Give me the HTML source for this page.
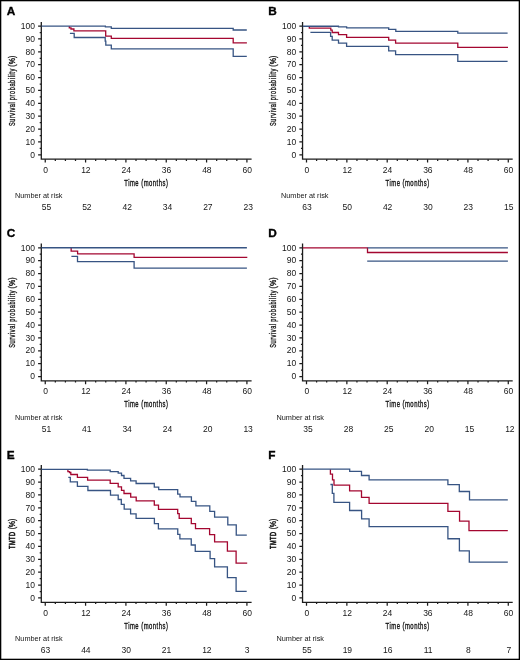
<!DOCTYPE html>
<html><head><meta charset="utf-8"><style>
html,body{margin:0;padding:0;background:#fff;}
body{width:520px;height:660px;overflow:hidden;}
svg{display:block;will-change:transform;}
text{font-family:"Liberation Sans",sans-serif;fill:#161616;}
.let{font-size:11.8px;font-weight:bold;fill:#000;stroke:#000;stroke-width:0.35;}
.yt{font-size:8.5px;text-anchor:end;}
.xt{font-size:8.5px;text-anchor:middle;}
.xl{font-size:9.8px;stroke:#161616;stroke-width:0.4;}
.yl{font-size:9.0px;stroke:#161616;stroke-width:0.35;}
.nl{font-size:7.3px;}
.nn{font-size:8.5px;text-anchor:middle;}
.tk{stroke:#1c1c1c;stroke-width:1.25;fill:none;}
.ax{stroke:#1c1c1c;stroke-width:1.3;fill:none;stroke-linejoin:miter;stroke-linecap:butt;}
.cr{stroke:#a40730;stroke-width:1.3;fill:none;stroke-linejoin:miter;}
.cb{stroke:#375483;stroke-width:1.3;fill:none;stroke-linejoin:miter;}
</style></head><body>
<svg width="520" height="660" viewBox="0 0 520 660">
<rect x="0" y="0" width="520" height="660" fill="#fff"/>
<text x="6.7" y="15.45" class="let">A</text>
<path d="M38.1,154.8H41.3M39.7,148.37H41.3M38.1,141.93H41.3M39.7,135.5H41.3M38.1,129.06H41.3M39.7,122.62H41.3M38.1,116.19H41.3M39.7,109.76H41.3M38.1,103.32H41.3M39.7,96.89H41.3M38.1,90.45H41.3M39.7,84.02H41.3M38.1,77.58H41.3M39.7,71.14H41.3M38.1,64.71H41.3M39.7,58.28H41.3M38.1,51.84H41.3M39.7,45.41H41.3M38.1,38.97H41.3M39.7,32.53H41.3M38.1,26.1H41.3M45.25,159.2V162.6M55.33,159.2V160.9M65.42,159.2V160.9M75.5,159.2V160.9M85.58,159.2V162.6M95.67,159.2V160.9M105.75,159.2V160.9M115.83,159.2V160.9M125.91,159.2V162.6M136,159.2V160.9M146.08,159.2V160.9M156.16,159.2V160.9M166.25,159.2V162.6M176.33,159.2V160.9M186.41,159.2V160.9M196.5,159.2V160.9M206.58,159.2V162.6M216.66,159.2V160.9M226.74,159.2V160.9M236.83,159.2V160.9M246.91,159.2V162.6" class="tk"/>
<path d="M41.3,21.9V159.2H251.6" class="ax"/>
<text x="34.9" y="157.5" class="yt">0</text>
<text x="34.9" y="144.63" class="yt">10</text>
<text x="34.9" y="131.76" class="yt">20</text>
<text x="34.9" y="118.89" class="yt">30</text>
<text x="34.9" y="106.02" class="yt">40</text>
<text x="34.9" y="93.15" class="yt">50</text>
<text x="34.9" y="80.28" class="yt">60</text>
<text x="34.9" y="67.41" class="yt">70</text>
<text x="34.9" y="54.54" class="yt">80</text>
<text x="34.9" y="41.67" class="yt">90</text>
<text x="34.9" y="28.8" class="yt">100</text>
<text x="45.55" y="172.6" class="xt">0</text>
<text x="85.88" y="172.6" class="xt">12</text>
<text x="126.21" y="172.6" class="xt">24</text>
<text x="166.55" y="172.6" class="xt">36</text>
<text x="206.88" y="172.6" class="xt">48</text>
<text x="247.21" y="172.6" class="xt">60</text>
<text transform="translate(124.28,185.7) scale(0.6,1)" x="0" y="0" class="xl" textLength="72.67" lengthAdjust="spacing">Time (months)</text>
<text transform="translate(14.8,126.05) rotate(-90) scale(0.62,1)" x="0" y="0" class="yl" textLength="38.42" lengthAdjust="spacing">Survival</text>
<text transform="translate(14.8,100.16) rotate(-90) scale(0.62,1)" x="0" y="0" class="yl" textLength="50.69" lengthAdjust="spacing">probability</text>
<text transform="translate(14.8,66.72) rotate(-90) scale(0.78,1)" x="0" y="0" class="yl" textLength="14.11" lengthAdjust="spacing">(%)</text>
<text x="15" y="198.2" class="nl">Number at risk</text>
<text x="46.55" y="209.9" class="nn">55</text>
<text x="86.88" y="209.9" class="nn">52</text>
<text x="127.21" y="209.9" class="nn">42</text>
<text x="167.55" y="209.9" class="nn">34</text>
<text x="207.88" y="209.9" class="nn">27</text>
<text x="248.21" y="209.9" class="nn">23</text>
<path d="M69.3,26.2 V27.9 H71.0 V29.0 H73.9 V30.85 H105.7 V36.2 H111.3 V38.45 H233.2 V42.9 H246.9" class="cr"/>
<path d="M41.5,26.2 H105.4 V26.8 H111.3 V28.3 H233.2 V30.0 H246.8" class="cb"/>
<path d="M69.9,33.4 H74.2 V37.5 H105.2 V41.2 H105.8 V45.1 H111.3 V48.8 H233.2 V56.3 H246.8" class="cb"/>
<text x="268.3" y="15.45" class="let">B</text>
<path d="M299.35,154.8H302.55M300.95,148.37H302.55M299.35,141.93H302.55M300.95,135.5H302.55M299.35,129.06H302.55M300.95,122.62H302.55M299.35,116.19H302.55M300.95,109.76H302.55M299.35,103.32H302.55M300.95,96.89H302.55M299.35,90.45H302.55M300.95,84.02H302.55M299.35,77.58H302.55M300.95,71.14H302.55M299.35,64.71H302.55M300.95,58.28H302.55M299.35,51.84H302.55M300.95,45.41H302.55M299.35,38.97H302.55M300.95,32.53H302.55M299.35,26.1H302.55M306.5,159.2V162.6M316.59,159.2V160.9M326.68,159.2V160.9M336.77,159.2V160.9M346.86,159.2V162.6M356.94,159.2V160.9M367.03,159.2V160.9M377.12,159.2V160.9M387.21,159.2V162.6M397.3,159.2V160.9M407.39,159.2V160.9M417.48,159.2V160.9M427.57,159.2V162.6M437.66,159.2V160.9M447.75,159.2V160.9M457.84,159.2V160.9M467.92,159.2V162.6M478.01,159.2V160.9M488.1,159.2V160.9M498.19,159.2V160.9M508.28,159.2V162.6" class="tk"/>
<path d="M302.55,21.9V159.2H512.7" class="ax"/>
<text x="296.15" y="157.5" class="yt">0</text>
<text x="296.15" y="144.63" class="yt">10</text>
<text x="296.15" y="131.76" class="yt">20</text>
<text x="296.15" y="118.89" class="yt">30</text>
<text x="296.15" y="106.02" class="yt">40</text>
<text x="296.15" y="93.15" class="yt">50</text>
<text x="296.15" y="80.28" class="yt">60</text>
<text x="296.15" y="67.41" class="yt">70</text>
<text x="296.15" y="54.54" class="yt">80</text>
<text x="296.15" y="41.67" class="yt">90</text>
<text x="296.15" y="28.8" class="yt">100</text>
<text x="306.8" y="172.6" class="xt">0</text>
<text x="347.16" y="172.6" class="xt">12</text>
<text x="387.51" y="172.6" class="xt">24</text>
<text x="427.87" y="172.6" class="xt">36</text>
<text x="468.22" y="172.6" class="xt">48</text>
<text x="508.58" y="172.6" class="xt">60</text>
<text transform="translate(385.59,185.7) scale(0.6,1)" x="0" y="0" class="xl" textLength="72.67" lengthAdjust="spacing">Time (months)</text>
<text transform="translate(276.1,126.05) rotate(-90) scale(0.62,1)" x="0" y="0" class="yl" textLength="38.42" lengthAdjust="spacing">Survival</text>
<text transform="translate(276.1,100.16) rotate(-90) scale(0.62,1)" x="0" y="0" class="yl" textLength="50.69" lengthAdjust="spacing">probability</text>
<text transform="translate(276.1,66.72) rotate(-90) scale(0.78,1)" x="0" y="0" class="yl" textLength="14.11" lengthAdjust="spacing">(%)</text>
<text x="281" y="198.2" class="nl">Number at risk</text>
<text x="306.9" y="209.9" class="nn">63</text>
<text x="347.26" y="209.9" class="nn">50</text>
<text x="387.61" y="209.9" class="nn">42</text>
<text x="427.97" y="209.9" class="nn">30</text>
<text x="468.32" y="209.9" class="nn">23</text>
<text x="508.68" y="209.9" class="nn">15</text>
<path d="M309.3,26.25 V28.2 H330.8 V30.1 H332.2 V32.5 H338.5 V34.7 H346.6 V37.3 H388.7 V40.2 H395.6 V43.1 H457.8 V47.3 H508" class="cr"/>
<path d="M302.8,26.25 H338.5 V26.8 H346.6 V27.9 H388.7 V29.3 H395.8 V31.3 H457.8 V33.1 H507.6" class="cb"/>
<path d="M310.4,32.3 H330.6 V36.3 H332.2 V40.2 H338.5 V43.1 H346.6 V46.3 H388.7 V50.8 H395.6 V54.6 H457.8 V61.3 H507.6" class="cb"/>
<text x="6.7" y="237.15" class="let">C</text>
<path d="M38.1,376.5H41.3M39.7,370.06H41.3M38.1,363.63H41.3M39.7,357.19H41.3M38.1,350.76H41.3M39.7,344.32H41.3M38.1,337.89H41.3M39.7,331.45H41.3M38.1,325.02H41.3M39.7,318.58H41.3M38.1,312.15H41.3M39.7,305.72H41.3M38.1,299.28H41.3M39.7,292.85H41.3M38.1,286.41H41.3M39.7,279.98H41.3M38.1,273.54H41.3M39.7,267.11H41.3M38.1,260.67H41.3M39.7,254.24H41.3M38.1,247.8H41.3M45.25,380.9V384.3M55.33,380.9V382.6M65.42,380.9V382.6M75.5,380.9V382.6M85.58,380.9V384.3M95.67,380.9V382.6M105.75,380.9V382.6M115.83,380.9V382.6M125.91,380.9V384.3M136,380.9V382.6M146.08,380.9V382.6M156.16,380.9V382.6M166.25,380.9V384.3M176.33,380.9V382.6M186.41,380.9V382.6M196.5,380.9V382.6M206.58,380.9V384.3M216.66,380.9V382.6M226.74,380.9V382.6M236.83,380.9V382.6M246.91,380.9V384.3" class="tk"/>
<path d="M41.3,243.6V380.9H251.6" class="ax"/>
<text x="34.9" y="379.2" class="yt">0</text>
<text x="34.9" y="366.33" class="yt">10</text>
<text x="34.9" y="353.46" class="yt">20</text>
<text x="34.9" y="340.59" class="yt">30</text>
<text x="34.9" y="327.72" class="yt">40</text>
<text x="34.9" y="314.85" class="yt">50</text>
<text x="34.9" y="301.98" class="yt">60</text>
<text x="34.9" y="289.11" class="yt">70</text>
<text x="34.9" y="276.24" class="yt">80</text>
<text x="34.9" y="263.37" class="yt">90</text>
<text x="34.9" y="250.5" class="yt">100</text>
<text x="45.55" y="394.3" class="xt">0</text>
<text x="85.88" y="394.3" class="xt">12</text>
<text x="126.21" y="394.3" class="xt">24</text>
<text x="166.55" y="394.3" class="xt">36</text>
<text x="206.88" y="394.3" class="xt">48</text>
<text x="247.21" y="394.3" class="xt">60</text>
<text transform="translate(124.28,407.4) scale(0.6,1)" x="0" y="0" class="xl" textLength="72.67" lengthAdjust="spacing">Time (months)</text>
<text transform="translate(14.8,347.75) rotate(-90) scale(0.62,1)" x="0" y="0" class="yl" textLength="38.42" lengthAdjust="spacing">Survival</text>
<text transform="translate(14.8,321.86) rotate(-90) scale(0.62,1)" x="0" y="0" class="yl" textLength="50.69" lengthAdjust="spacing">probability</text>
<text transform="translate(14.8,288.42) rotate(-90) scale(0.78,1)" x="0" y="0" class="yl" textLength="14.11" lengthAdjust="spacing">(%)</text>
<text x="15" y="419.9" class="nl">Number at risk</text>
<text x="46.45" y="431.6" class="nn">51</text>
<text x="86.78" y="431.6" class="nn">41</text>
<text x="127.11" y="431.6" class="nn">34</text>
<text x="167.45" y="431.6" class="nn">24</text>
<text x="207.78" y="431.6" class="nn">20</text>
<text x="248.11" y="431.6" class="nn">13</text>
<path d="M71.15,247.75 V251.2 H77.6 V253.85 H134.1 V257.45 H247.3" class="cr"/>
<path d="M41.5,247.75 H246.9" class="cb"/>
<path d="M71.4,256.4 H77.5 V261.6 H134.1 V268.1 H246.9" class="cb"/>
<text x="268.3" y="237.15" class="let">D</text>
<path d="M299.35,376.5H302.55M300.95,370.06H302.55M299.35,363.63H302.55M300.95,357.19H302.55M299.35,350.76H302.55M300.95,344.32H302.55M299.35,337.89H302.55M300.95,331.45H302.55M299.35,325.02H302.55M300.95,318.58H302.55M299.35,312.15H302.55M300.95,305.72H302.55M299.35,299.28H302.55M300.95,292.85H302.55M299.35,286.41H302.55M300.95,279.98H302.55M299.35,273.54H302.55M300.95,267.11H302.55M299.35,260.67H302.55M300.95,254.24H302.55M299.35,247.8H302.55M306.5,380.9V384.3M316.59,380.9V382.6M326.68,380.9V382.6M336.77,380.9V382.6M346.86,380.9V384.3M356.94,380.9V382.6M367.03,380.9V382.6M377.12,380.9V382.6M387.21,380.9V384.3M397.3,380.9V382.6M407.39,380.9V382.6M417.48,380.9V382.6M427.57,380.9V384.3M437.66,380.9V382.6M447.75,380.9V382.6M457.84,380.9V382.6M467.92,380.9V384.3M478.01,380.9V382.6M488.1,380.9V382.6M498.19,380.9V382.6M508.28,380.9V384.3" class="tk"/>
<path d="M302.55,243.6V380.9H512.7" class="ax"/>
<text x="296.15" y="379.2" class="yt">0</text>
<text x="296.15" y="366.33" class="yt">10</text>
<text x="296.15" y="353.46" class="yt">20</text>
<text x="296.15" y="340.59" class="yt">30</text>
<text x="296.15" y="327.72" class="yt">40</text>
<text x="296.15" y="314.85" class="yt">50</text>
<text x="296.15" y="301.98" class="yt">60</text>
<text x="296.15" y="289.11" class="yt">70</text>
<text x="296.15" y="276.24" class="yt">80</text>
<text x="296.15" y="263.37" class="yt">90</text>
<text x="296.15" y="250.5" class="yt">100</text>
<text x="306.8" y="394.3" class="xt">0</text>
<text x="347.16" y="394.3" class="xt">12</text>
<text x="387.51" y="394.3" class="xt">24</text>
<text x="427.87" y="394.3" class="xt">36</text>
<text x="468.22" y="394.3" class="xt">48</text>
<text x="508.58" y="394.3" class="xt">60</text>
<text transform="translate(385.59,407.4) scale(0.6,1)" x="0" y="0" class="xl" textLength="72.67" lengthAdjust="spacing">Time (months)</text>
<text transform="translate(276.1,347.75) rotate(-90) scale(0.62,1)" x="0" y="0" class="yl" textLength="38.42" lengthAdjust="spacing">Survival</text>
<text transform="translate(276.1,321.86) rotate(-90) scale(0.62,1)" x="0" y="0" class="yl" textLength="50.69" lengthAdjust="spacing">probability</text>
<text transform="translate(276.1,288.42) rotate(-90) scale(0.78,1)" x="0" y="0" class="yl" textLength="14.11" lengthAdjust="spacing">(%)</text>
<text x="276.5" y="419.9" class="nl">Number at risk</text>
<text x="308.1" y="431.6" class="nn">35</text>
<text x="348.46" y="431.6" class="nn">28</text>
<text x="388.81" y="431.6" class="nn">25</text>
<text x="429.17" y="431.6" class="nn">20</text>
<text x="469.52" y="431.6" class="nn">15</text>
<text x="509.88" y="431.6" class="nn">12</text>
<path d="M302.8,247.8 H367.5 V252.5 H507.9" class="cr"/>
<path d="M367.5,247.8 H507.9" class="cb"/>
<path d="M367.2,261.1 H507.9" class="cb"/>
<text x="6.7" y="458.65" class="let">E</text>
<path d="M38.1,597.95H41.3M39.7,591.51H41.3M38.1,585.08H41.3M39.7,578.64H41.3M38.1,572.2H41.3M39.7,565.76H41.3M38.1,559.33H41.3M39.7,552.89H41.3M38.1,546.45H41.3M39.7,540.01H41.3M38.1,533.58H41.3M39.7,527.14H41.3M38.1,520.7H41.3M39.7,514.26H41.3M38.1,507.82H41.3M39.7,501.39H41.3M38.1,494.95H41.3M39.7,488.51H41.3M38.1,482.07H41.3M39.7,475.64H41.3M38.1,469.2H41.3M45.25,602.3V605.7M55.33,602.3V604M65.42,602.3V604M75.5,602.3V604M85.58,602.3V605.7M95.67,602.3V604M105.75,602.3V604M115.83,602.3V604M125.91,602.3V605.7M136,602.3V604M146.08,602.3V604M156.16,602.3V604M166.25,602.3V605.7M176.33,602.3V604M186.41,602.3V604M196.5,602.3V604M206.58,602.3V605.7M216.66,602.3V604M226.74,602.3V604M236.83,602.3V604M246.91,602.3V605.7" class="tk"/>
<path d="M41.3,465V602.3H251.6" class="ax"/>
<text x="34.9" y="600.65" class="yt">0</text>
<text x="34.9" y="587.78" class="yt">10</text>
<text x="34.9" y="574.9" class="yt">20</text>
<text x="34.9" y="562.03" class="yt">30</text>
<text x="34.9" y="549.15" class="yt">40</text>
<text x="34.9" y="536.28" class="yt">50</text>
<text x="34.9" y="523.4" class="yt">60</text>
<text x="34.9" y="510.52" class="yt">70</text>
<text x="34.9" y="497.65" class="yt">80</text>
<text x="34.9" y="484.77" class="yt">90</text>
<text x="34.9" y="471.9" class="yt">100</text>
<text x="45.55" y="615.7" class="xt">0</text>
<text x="85.88" y="615.7" class="xt">12</text>
<text x="126.21" y="615.7" class="xt">24</text>
<text x="166.55" y="615.7" class="xt">36</text>
<text x="206.88" y="615.7" class="xt">48</text>
<text x="247.21" y="615.7" class="xt">60</text>
<text transform="translate(124.28,628.8) scale(0.6,1)" x="0" y="0" class="xl" textLength="72.67" lengthAdjust="spacing">Time (months)</text>
<text transform="translate(14.6,549.04) rotate(-90) scale(0.62,1)" x="0" y="0" class="yl" style="stroke-width:0.6" textLength="27.59" lengthAdjust="spacing">TMTD</text>
<text transform="translate(14.6,529.32) rotate(-90) scale(0.78,1)" x="0" y="0" class="yl" textLength="13.54" lengthAdjust="spacing">(%)</text>
<text x="15.1" y="641.3" class="nl">Number at risk</text>
<text x="45.55" y="653" class="nn">63</text>
<text x="85.88" y="653" class="nn">44</text>
<text x="126.21" y="653" class="nn">30</text>
<text x="166.55" y="653" class="nn">21</text>
<text x="206.88" y="653" class="nn">12</text>
<text x="247.21" y="653" class="nn">3</text>
<path d="M67.9,469.3 V471.6 H69.5 V472.5 H70.8 V474.5 H77.4 V477.3 H87.6 V480.1 H110.2 V483.3 H118.2 V486.8 H121.5 V490.4 H124 V493.5 H130.7 V497.2 H136.2 V500.8 H154.3 V505.1 H158.5 V509.3 H177.7 V513.6 H179.2 V518.3 H191.3 V523.6 H195.5 V528.6 H209.6 V534.7 H214.6 V541.9 H227.4 V551.2 H236.1 V563.1 H247.2" class="cr"/>
<path d="M41.5,469.3 H87.4 V470.1 H110.2 V471.6 H118.2 V473.1 H121.5 V475.5 H124 V478.4 H130.6 V480.9 H136.1 V483.5 H154.3 V487.1 H158.7 V489.6 H177.7 V494.1 H180 V496.8 H191.4 V501.4 H195.9 V505.8 H209.8 V511.3 H214.6 V517.2 H227.8 V524.8 H236.25 V535.2 H246.8" class="cb"/>
<path d="M68.3,477.4 H70.3 V481.9 H77.4 V486.4 H87.9 V490.5 H110.5 V495.2 H118.2 V499.5 H121.3 V504.3 H124.2 V509.1 H130.6 V513.8 H136.1 V518.3 H154.4 V523.6 H158.4 V528.8 H177.75 V534.3 H179.9 V538.9 H191.25 V545 H195.25 V551.4 H210.1 V558.7 H214.6 V566.9 H227.4 V577.7 H236.1 V591.3 H246.7" class="cb"/>
<text x="268.3" y="458.65" class="let">F</text>
<path d="M299.35,597.95H302.55M300.95,591.51H302.55M299.35,585.08H302.55M300.95,578.64H302.55M299.35,572.2H302.55M300.95,565.76H302.55M299.35,559.33H302.55M300.95,552.89H302.55M299.35,546.45H302.55M300.95,540.01H302.55M299.35,533.58H302.55M300.95,527.14H302.55M299.35,520.7H302.55M300.95,514.26H302.55M299.35,507.82H302.55M300.95,501.39H302.55M299.35,494.95H302.55M300.95,488.51H302.55M299.35,482.07H302.55M300.95,475.64H302.55M299.35,469.2H302.55M306.5,602.3V605.7M316.59,602.3V604M326.68,602.3V604M336.77,602.3V604M346.86,602.3V605.7M356.94,602.3V604M367.03,602.3V604M377.12,602.3V604M387.21,602.3V605.7M397.3,602.3V604M407.39,602.3V604M417.48,602.3V604M427.57,602.3V605.7M437.66,602.3V604M447.75,602.3V604M457.84,602.3V604M467.92,602.3V605.7M478.01,602.3V604M488.1,602.3V604M498.19,602.3V604M508.28,602.3V605.7" class="tk"/>
<path d="M302.55,465V602.3H512.7" class="ax"/>
<text x="296.15" y="600.65" class="yt">0</text>
<text x="296.15" y="587.78" class="yt">10</text>
<text x="296.15" y="574.9" class="yt">20</text>
<text x="296.15" y="562.03" class="yt">30</text>
<text x="296.15" y="549.15" class="yt">40</text>
<text x="296.15" y="536.28" class="yt">50</text>
<text x="296.15" y="523.4" class="yt">60</text>
<text x="296.15" y="510.52" class="yt">70</text>
<text x="296.15" y="497.65" class="yt">80</text>
<text x="296.15" y="484.77" class="yt">90</text>
<text x="296.15" y="471.9" class="yt">100</text>
<text x="306.8" y="615.7" class="xt">0</text>
<text x="347.16" y="615.7" class="xt">12</text>
<text x="387.51" y="615.7" class="xt">24</text>
<text x="427.87" y="615.7" class="xt">36</text>
<text x="468.22" y="615.7" class="xt">48</text>
<text x="508.58" y="615.7" class="xt">60</text>
<text transform="translate(385.59,628.8) scale(0.6,1)" x="0" y="0" class="xl" textLength="72.67" lengthAdjust="spacing">Time (months)</text>
<text transform="translate(275.9,549.04) rotate(-90) scale(0.62,1)" x="0" y="0" class="yl" style="stroke-width:0.6" textLength="27.59" lengthAdjust="spacing">TMTD</text>
<text transform="translate(275.9,529.32) rotate(-90) scale(0.78,1)" x="0" y="0" class="yl" textLength="13.54" lengthAdjust="spacing">(%)</text>
<text x="276.5" y="641.3" class="nl">Number at risk</text>
<text x="307" y="653" class="nn">55</text>
<text x="347.36" y="653" class="nn">19</text>
<text x="387.71" y="653" class="nn">16</text>
<text x="428.07" y="653" class="nn">11</text>
<text x="468.42" y="653" class="nn">8</text>
<text x="508.78" y="653" class="nn">7</text>
<path d="M330.4,469.2 V474.1 H332.5 V479.8 H334 V485.1 H349.6 V490.8 H361.5 V497.3 H369.1 V503.35 H447.9 V511.45 H459.55 V521.05 H469 V530.55 H507.8" class="cr"/>
<path d="M302.8,469.2 H349.7 V471.35 H361.5 V475.5 H369.1 V479.8 H447.9 V484.65 H459.3 V491.5 H469.5 V499.8 H507.8" class="cb"/>
<path d="M330.4,484.5 H332.3 V493.4 H333.9 V502.3 H349.6 V510.5 H361.6 V518.85 H369.1 V526.6 H447.9 V538.75 H459.4 V550.9 H469.3 V562.2 H507.8" class="cb"/>
<rect x="0.65" y="0.65" width="518.7" height="658.7" fill="none" stroke="#000" stroke-width="1.3"/>
</svg>
</body></html>
